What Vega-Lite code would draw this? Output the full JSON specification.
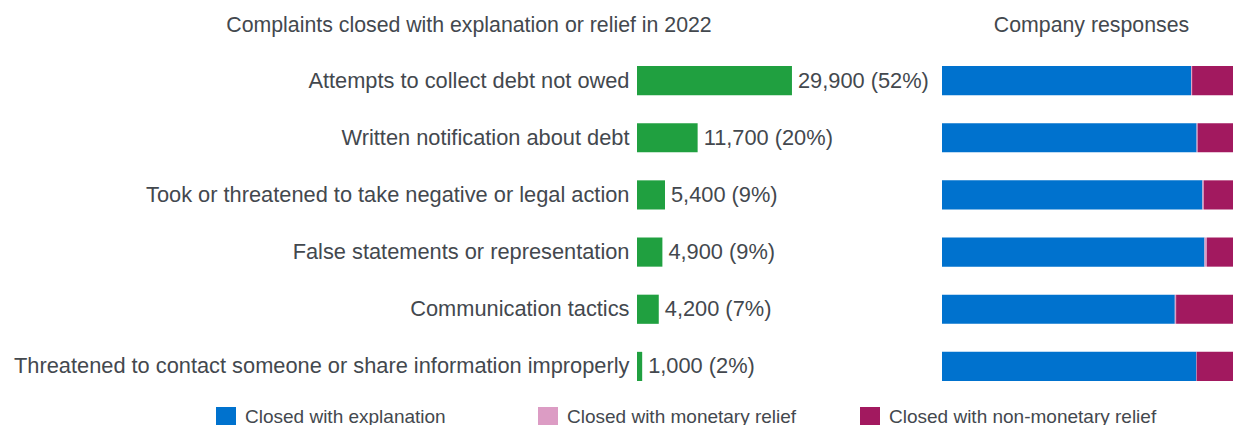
{
  "$schema": "https://vega.github.io/schema/vega-lite/v6.json",
  "padding": {"left": 13, "top": 14, "right": 4, "bottom": 0},
  "background": "white",
  "config": {
    "font": "Liberation Sans",
    "view": {"stroke": null},
    "title": {"fontSize": 21.3, "fontWeight": "normal", "color": "#43484e", "anchor": "middle", "offset": 16},
    "axis": {"labelFont": "Liberation Sans"},
    "legend": {"labelFont": "Liberation Sans"}
  },
  "datasets": {
    "issues": [
      {"issue": "Attempts to collect debt not owed", "count": 29900, "label": "29,900 (52%)"},
      {"issue": "Written notification about debt", "count": 11700, "label": "11,700 (20%)"},
      {"issue": "Took or threatened to take negative or legal action", "count": 5400, "label": "5,400 (9%)"},
      {"issue": "False statements or representation", "count": 4900, "label": "4,900 (9%)"},
      {"issue": "Communication tactics", "count": 4200, "label": "4,200 (7%)"},
      {"issue": "Threatened to contact someone or share information improperly", "count": 1000, "label": "1,000 (2%)"}
    ],
    "responses": [
      {"issue": "Attempts to collect debt not owed", "response": "Closed with explanation", "pct": 85.6},
      {"issue": "Attempts to collect debt not owed", "response": "Closed with monetary relief", "pct": 0.35},
      {"issue": "Attempts to collect debt not owed", "response": "Closed with non-monetary relief", "pct": 14.05},
      {"issue": "Written notification about debt", "response": "Closed with explanation", "pct": 87.5},
      {"issue": "Written notification about debt", "response": "Closed with monetary relief", "pct": 0.35},
      {"issue": "Written notification about debt", "response": "Closed with non-monetary relief", "pct": 12.15},
      {"issue": "Took or threatened to take negative or legal action", "response": "Closed with explanation", "pct": 89.5},
      {"issue": "Took or threatened to take negative or legal action", "response": "Closed with monetary relief", "pct": 0.45},
      {"issue": "Took or threatened to take negative or legal action", "response": "Closed with non-monetary relief", "pct": 10.05},
      {"issue": "False statements or representation", "response": "Closed with explanation", "pct": 90.2},
      {"issue": "False statements or representation", "response": "Closed with monetary relief", "pct": 0.8},
      {"issue": "False statements or representation", "response": "Closed with non-monetary relief", "pct": 9.0},
      {"issue": "Communication tactics", "response": "Closed with explanation", "pct": 80.0},
      {"issue": "Communication tactics", "response": "Closed with monetary relief", "pct": 0.45},
      {"issue": "Communication tactics", "response": "Closed with non-monetary relief", "pct": 19.55},
      {"issue": "Threatened to contact someone or share information improperly", "response": "Closed with explanation", "pct": 87.4},
      {"issue": "Threatened to contact someone or share information improperly", "response": "Closed with monetary relief", "pct": 0.1},
      {"issue": "Threatened to contact someone or share information improperly", "response": "Closed with non-monetary relief", "pct": 12.5}
    ]
  },
  "spacing": 7,
  "hconcat": [
    {
      "title": {"text": "Complaints closed with explanation or relief in 2022", "dx": -317},
      "width": 298,
      "height": 343,
      "data": {"name": "issues"},
      "encoding": {
        "y": {
          "field": "issue", "type": "nominal", "sort": null,
          "scale": {"paddingInner": 0.49, "paddingOuter": 0.245},
          "axis": {"title": null, "domain": false, "ticks": false, "labelPadding": 8, "labelFontSize": 21.8, "labelColor": "#43484e", "labelLimit": 1000}
        },
        "x": {"field": "count", "type": "quantitative", "scale": {"domain": [0, 57500]}, "axis": null}
      },
      "layer": [
        {"mark": {"type": "bar", "color": "#20a040"}},
        {"mark": {"type": "text", "align": "left", "dx": 6, "fontSize": 21.8, "color": "#43484e"}, "encoding": {"text": {"field": "label"}}}
      ]
    },
    {
      "title": {"text": "Company responses", "dx": 4},
      "width": 291,
      "height": 343,
      "data": {"name": "responses"},
      "mark": {"type": "bar"},
      "encoding": {
        "y": {"field": "issue", "type": "nominal", "sort": null, "scale": {"paddingInner": 0.49, "paddingOuter": 0.245}, "axis": null},
        "x": {"field": "pct", "type": "quantitative", "stack": "normalize", "axis": null},
        "color": {
          "field": "response", "type": "nominal",
          "scale": {"domain": ["Closed with explanation", "Closed with monetary relief", "Closed with non-monetary relief"], "range": ["#0072ce", "#dc9cc4", "#a2195f"]},
          "legend": {
            "title": null, "orient": "none", "legendX": -421, "legendY": 355,
            "direction": "horizontal", "columns": 3, "gridAlign": "all", "columnPadding": 25,
            "symbolType": "square", "symbolSize": 400, "symbolStrokeWidth": 0,
            "labelFontSize": 19, "labelColor": "#43484e", "labelOffset": 9, "labelLimit": 1000
          }
        }
      }
    }
  ]
}
